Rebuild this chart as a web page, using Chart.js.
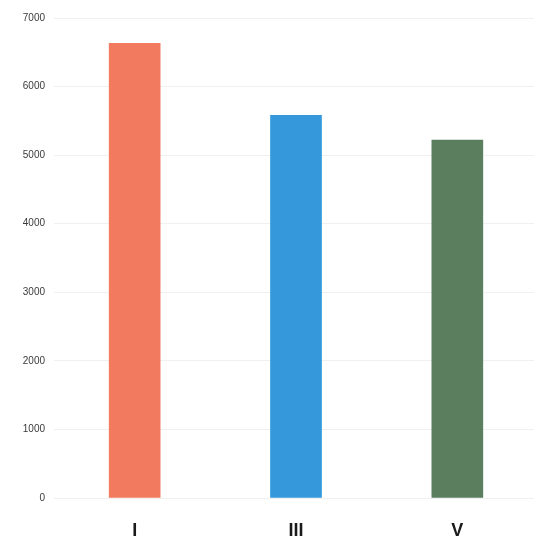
<!DOCTYPE html>
<html>
<head>
<meta charset="utf-8">
<script src="https://cdn.jsdelivr.net/npm/chart.js@4"></script>
<style>
  html, body { margin: 0; padding: 0; background: #fff; overflow: hidden; }
  #wrap { width: 534px; height: 550px; overflow: hidden; }
  canvas { display: block; }
</style>
</head>
<body>
<div id="wrap"><canvas id="chart" width="538" height="550"></canvas></div>
<script>
const categories = ["I", "III", "V"];
const values = [6630, 5580, 5220];
const barColors = ["#f27a5e", "#3598db", "#5a7e5e"];
const yTicks = [0, 1000, 2000, 3000, 4000, 5000, 6000, 7000];

const ctx = document.getElementById("chart").getContext("2d");

new Chart(ctx, {
  type: "bar",
  data: {
    labels: categories,
    datasets: [
      {
        data: values,
        backgroundColor: barColors,
        borderWidth: 0,
        barThickness: 51,
      },
    ],
  },
  options: {
    responsive: false,
    animation: false,
    layout: { padding: { top: 18, right: 0, bottom: 0, left: 0 } },
    plugins: {
      legend: { display: false },
      tooltip: { enabled: false },
    },
    scales: {
      x: {
        grid: { display: false, drawTicks: false },
        border: { display: false },
        afterFit: (axis) => {
          axis.height = 52;
        },
        ticks: {
          color: "#1a1a1a",
          padding: 22,
          font: { family: "Liberation Sans Narrow, Arial", size: 18, weight: "bold" },
        },
      },
      y: {
        min: 0,
        max: 7000,
        afterBuildTicks: (axis) => {
          axis.ticks = yTicks.map((v) => ({ value: v }));
        },
        afterFit: (axis) => {
          axis.width = 54;
        },
        grid: { color: "#f0f0f0", drawTicks: false },
        border: { display: false },
        ticks: {
          color: "#3a3a3a",
          padding: 9,
          callback: (v) => String(v),
          font: { family: "Liberation Sans Narrow, Arial", size: 10 },
        },
      },
    },
  },
});
</script>
</body>
</html>
